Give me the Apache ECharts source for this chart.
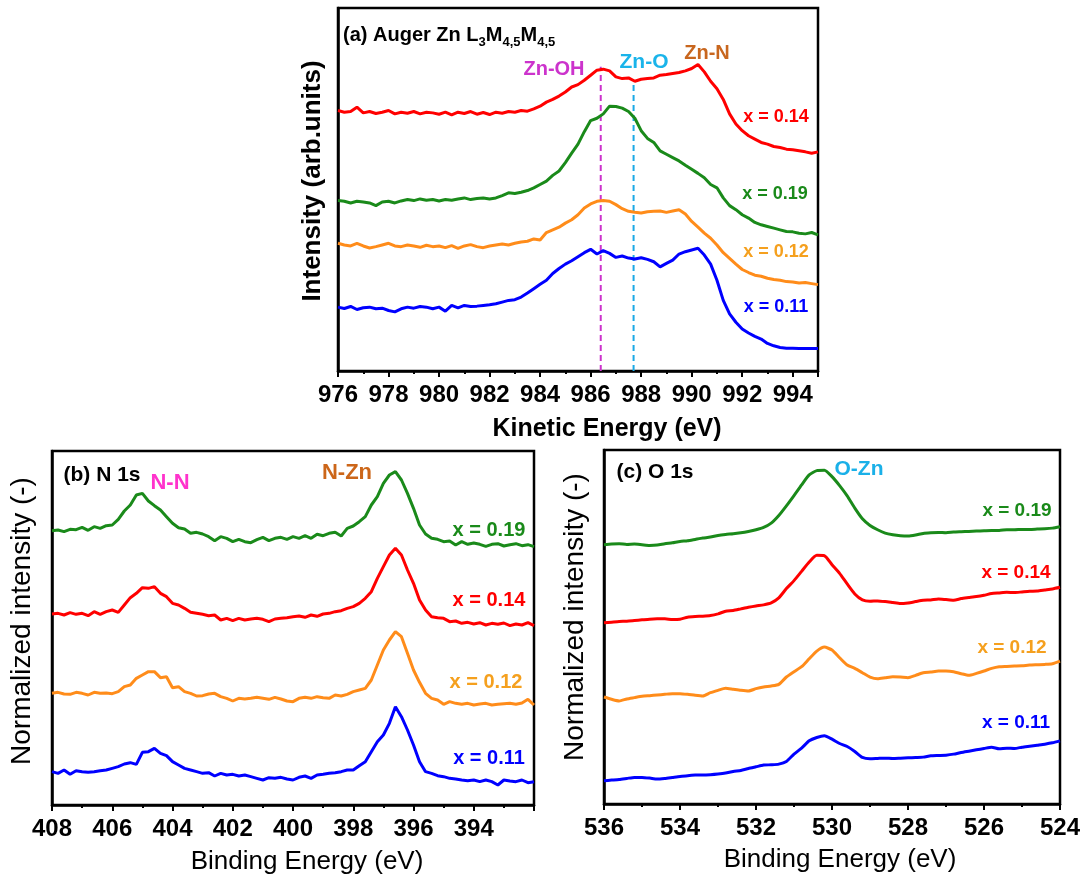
<!DOCTYPE html>
<html>
<head>
<meta charset="utf-8">
<title>XPS / Auger spectra of Zn-O-N films</title>
<script src="https://cdn.jsdelivr.net/npm/echarts@6/dist/echarts.min.js"></script>
<style>
  html, body { margin: 0; padding: 0; background: #fff; }
  #chart { width: 1084px; height: 884px; }
</style>
</head>
<body>
<div id="chart"></div>
<script>
// ---------- (a) Auger Zn LMM, kinetic energy 976.00 -> 995.00 eV, 0.25 eV sampling ----------
const augerStart = 976.0, augerStep = 0.25;
const augerX014 = [775,770,772,785,768,772,766,770,775,765,770,767,772,765,770,768,764,770,762,770,766,772,764,769,763,770,767,772,770,775,773,780,788,800,808,818,830,845,852,865,880,895,898,893,875,870,872,862,868,870,872,880,882,885,888,893,900,912,890,862,840,808,765,735,715,700,690,680,675,668,665,660,658,655,652,648,652];
const augerX019 = [507,505,500,505,503,500,492,503,505,500,506,510,507,512,508,510,506,510,508,512,515,510,513,515,512,515,522,530,528,532,537,545,555,565,582,595,620,648,675,712,745,752,765,788,787,782,772,752,715,692,680,655,645,635,625,612,600,588,575,555,545,515,492,480,465,455,442,435,430,425,420,415,414,410,408,412,405];
const augerX012 = [380,375,372,380,372,366,370,375,380,372,370,375,372,368,374,370,372,367,373,365,372,376,370,367,372,375,378,375,380,384,386,393,390,412,420,428,440,450,465,485,497,505,507,505,495,483,475,472,470,474,475,476,472,476,480,467,445,428,410,395,375,352,335,318,302,293,285,282,276,272,270,266,265,262,263,260,257];
const augerX011 = [190,186,192,183,188,190,185,187,180,176,185,190,187,192,190,185,190,178,195,188,195,192,193,195,197,200,205,210,212,220,232,245,258,270,290,305,318,328,340,352,362,348,358,350,338,342,336,333,337,332,325,310,320,330,348,355,360,365,345,318,270,210,170,145,125,113,103,95,82,75,70,68,68,67,67,67,67];
// reference positions of Zn-OH and Zn-O (eV) and the height of their guide lines
const augerMarkerEnergy = [986.4, 987.7];
const augerMarkerTop = [905, 865];
const augerTicks = [976, 995];

// ---------- (b) N 1s, binding energy 408.0 -> 392.0 eV, 0.2 eV sampling ----------
const n1sStart = 408.0, n1sStep = -0.2;
const n1sX019 = [823,825,820,827,826,833,824,835,830,838,840,857,882,900,930,935,912,898,885,865,845,832,828,815,818,813,805,793,805,800,790,797,790,787,796,803,793,800,803,797,805,800,808,800,812,808,815,818,807,830,837,850,865,900,925,965,990,1000,975,935,890,840,813,800,797,790,792,780,790,782,786,782,776,782,784,777,781,784,778,781,775];
const n1sX014 = [573,575,570,577,572,575,568,580,572,580,585,578,600,622,635,652,650,655,635,625,605,600,590,578,575,572,568,570,555,560,553,560,555,558,560,557,550,558,560,562,565,567,563,570,566,573,575,580,583,590,595,605,620,640,680,715,750,770,750,705,665,615,585,565,562,560,550,552,545,548,543,547,540,545,542,546,538,543,540,547,538];
const n1sX012 = [335,338,333,332,338,335,330,338,335,336,334,340,355,360,380,390,400,400,382,385,352,355,340,335,327,328,333,335,325,320,312,320,318,320,323,320,317,323,318,312,310,320,323,320,325,322,320,330,327,332,340,345,350,375,420,465,495,520,505,455,405,368,335,320,315,302,310,305,302,305,300,303,305,300,302,304,305,302,306,317,300];
const n1sX011 = [100,95,105,92,103,100,98,100,103,105,110,115,123,127,122,158,160,170,155,148,130,120,110,105,100,95,97,87,95,90,92,87,90,85,80,75,82,80,83,78,75,83,87,80,90,92,95,97,100,105,105,118,130,160,190,210,245,295,265,225,180,130,100,95,88,85,80,78,75,73,75,70,75,70,60,75,72,70,75,67,70];
const n1sTicks = [392, 408];

// ---------- (c) O 1s, binding energy 536.0 -> 524.0 eV, 0.2 eV sampling ----------
const o1sStart = 536.0, o1sStep = -0.2;
const o1sX019 = [780,782,783,781,782,780,778,779,783,786,790,792,796,800,803,808,811,813,816,820,825,832,845,868,897,928,960,990,1003,1004,985,958,927,890,858,838,825,815,810,807,806,809,814,816,817,816,818,819,820,821,822,823,823,825,825,826,826,827,828,830,834];
const o1sX014 = [545,547,549,550,552,554,556,557,557,555,556,562,564,565,567,572,580,582,587,592,596,599,605,620,648,672,700,728,748,747,720,694,662,632,614,610,611,609,606,603,605,609,613,614,617,615,613,618,621,624,628,633,635,637,636,638,640,641,644,647,652];
const o1sX012 = [322,315,310,316,320,324,326,328,330,332,332,330,327,325,335,342,348,345,342,340,347,352,355,360,382,398,413,437,460,472,463,440,418,408,395,382,377,380,383,382,380,387,395,397,400,400,398,392,387,393,400,408,413,414,415,416,418,419,420,422,430];
const o1sX011 = [70,72,74,77,80,80,78,75,77,80,83,85,87,87,88,90,93,98,101,107,112,117,118,120,128,150,168,190,200,205,195,182,173,158,140,136,137,138,137,138,139,140,141,145,146,147,150,155,159,163,167,171,166,168,167,171,174,177,180,184,190];
const o1sTicks = [524, 536];

// ---------- helpers ----------
const FONT = '"Liberation Sans", Arial, sans-serif';
const C = {
  red: '#ff0000', green: '#1a8a1a', orange: '#ff8c1a', blue: '#0000ff',
  orangeText: '#f5a01e'
};

// pairs each intensity with its energy on the uniform acquisition grid
function spectrum(start, step, values) {
  return values.map((v, i) => [+(start + i * step).toFixed(3), v]);
}

function lineSeries(idx, data, color, extra) {
  return Object.assign({
    type: 'line', xAxisIndex: idx, yAxisIndex: idx, data: data,
    showSymbol: false, symbol: 'none', silent: true, animation: false,
    lineStyle: { width: 3, color: color }, itemStyle: { color: color }, z: 3
  }, extra || {});
}

function energyAxis(idx, range, inverse, extraLabel) {
  return {
    type: 'value', gridIndex: idx, min: range[0], max: range[1], interval: 2, inverse: inverse,
    axisLine: { onZero: false, lineStyle: { color: '#000', width: 2.5 } },
    axisTick: { show: true, inside: false, length: 6, lineStyle: { color: '#000', width: 2 } },
    minorTick: { show: true, splitNumber: 2, length: 3, lineStyle: { color: '#000', width: 2 } },
    axisLabel: Object.assign({ color: '#000', fontFamily: FONT, fontWeight: 'bold', fontSize: 24, margin: 12 }, extraLabel || {}),
    splitLine: { show: false }, minorSplitLine: { show: false }
  };
}

function intensityAxis(idx, max) {
  return {
    type: 'value', gridIndex: idx, min: 0, max: max,
    axisLine: { show: true, onZero: false, lineStyle: { color: '#000', width: 2.5 } },
    axisTick: { show: false }, axisLabel: { show: false }, splitLine: { show: false }
  };
}

function txt(text, x, y, color, size, weight, rotate) {
  return {
    type: 'text', x: x, y: y, rotation: rotate ? Math.PI / 2 : 0, z: 10, silent: true,
    style: {
      text: text, fill: color, align: 'center', verticalAlign: 'middle',
      font: (weight || 'bold') + ' ' + size + 'px ' + FONT
    }
  };
}

const chart = echarts.init(document.getElementById('chart'), null, { renderer: 'canvas' });

const frame = { show: true, borderColor: '#000', borderWidth: 2.5, backgroundColor: 'transparent', containLabel: false };

const option = {
  backgroundColor: '#fff',
  animation: false,
  grid: [
    Object.assign({ left: 338, top: 8, width: 480, height: 363 }, frame),
    Object.assign({ left: 52, top: 451, width: 482, height: 354 }, frame),
    Object.assign({ left: 604, top: 450, width: 456, height: 354 }, frame)
  ],
  xAxis: [
    energyAxis(0, augerTicks, false, { showMaxLabel: false }),
    energyAxis(1, n1sTicks, true, { showMinLabel: false }),
    energyAxis(2, o1sTicks, true)
  ],
  yAxis: [
    intensityAxis(0, 1080),
    intensityAxis(1, 1062),
    intensityAxis(2, 1065)
  ],
  series: [
    // (a) guide lines for Zn-OH and Zn-O
    lineSeries(0, [[augerMarkerEnergy[0], 0], [augerMarkerEnergy[0], augerMarkerTop[0]]], '#cc33cc',
      { lineStyle: { width: 2, color: '#cc33cc', type: [6, 4] }, z: 2 }),
    lineSeries(0, [[augerMarkerEnergy[1], 0], [augerMarkerEnergy[1], augerMarkerTop[1]]], '#1aa9e6',
      { lineStyle: { width: 2, color: '#1aa9e6', type: [6, 4] }, z: 2 }),
    lineSeries(0, spectrum(augerStart, augerStep, augerX014), C.red),
    lineSeries(0, spectrum(augerStart, augerStep, augerX019), C.green),
    lineSeries(0, spectrum(augerStart, augerStep, augerX012), C.orange),
    lineSeries(0, spectrum(augerStart, augerStep, augerX011), C.blue),
    // (b) N 1s
    lineSeries(1, spectrum(n1sStart, n1sStep, n1sX019), C.green),
    lineSeries(1, spectrum(n1sStart, n1sStep, n1sX014), C.red),
    lineSeries(1, spectrum(n1sStart, n1sStep, n1sX012), C.orange),
    lineSeries(1, spectrum(n1sStart, n1sStep, n1sX011), C.blue),
    // (c) O 1s
    lineSeries(2, spectrum(o1sStart, o1sStep, o1sX019), C.green, { smooth: 0.2 }),
    lineSeries(2, spectrum(o1sStart, o1sStep, o1sX014), C.red, { smooth: 0.2 }),
    lineSeries(2, spectrum(o1sStart, o1sStep, o1sX012), C.orange, { smooth: 0.2 }),
    lineSeries(2, spectrum(o1sStart, o1sStep, o1sX011), C.blue, { smooth: 0.2 })
  ],
  graphic: [
    // panel (a)
    {
      type: 'text', x: 343, y: 33, z: 10, silent: true,
      style: {
        text: '{b|(a) Auger Zn L}{s|3}{b|M}{s|4,5}{b|M}{s|4,5}',
        verticalAlign: 'middle', align: 'left',
        rich: {
          b: { fontFamily: FONT, fontWeight: 'bold', fontSize: 20, fill: '#000', lineHeight: 24, verticalAlign: 'bottom' },
          s: { fontFamily: FONT, fontWeight: 'bold', fontSize: 13, fill: '#000', lineHeight: 16, verticalAlign: 'bottom', padding: [0, 0, -4, 0] }
        }
      }
    },
    txt('Zn-OH', 554, 69, '#cc33cc', 20),
    txt('Zn-O', 644, 62, '#1ab4ea', 21),
    txt('Zn-N', 707, 53, '#c8661e', 20),
    txt('x = 0.14', 776, 117, C.red, 18),
    txt('x = 0.19', 775, 194, C.green, 18),
    txt('x = 0.12', 776, 252, C.orangeText, 18),
    txt('x = 0.11', 776, 307, C.blue, 18),
    txt('Intensity (arb.units)', 313, 181, '#000', 26, 'bold', true),
    txt('Kinetic Energy (eV)', 607, 429, '#000', 25),
    // panel (b)
    txt('(b) N 1s', 102, 475, '#000', 21),
    txt('N-N', 170, 483, '#ff33cc', 22),
    txt('N-Zn', 347, 473, '#cc6619', 22),
    txt('x = 0.19', 489, 530, C.green, 20),
    txt('x = 0.14', 489, 600, C.red, 20),
    txt('x = 0.12', 486, 682, C.orangeText, 20),
    txt('x = 0.11', 489, 758, C.blue, 20),
    txt('Normalized intensity (-)', 22, 621, '#000', 28, 'normal', true),
    txt('Binding Energy (eV)', 307, 862, '#000', 26, 'normal'),
    // panel (c)
    txt('(c) O 1s', 655, 472, '#000', 21),
    txt('O-Zn', 859, 469, '#1ab0e8', 21),
    txt('x = 0.19', 1017, 511, C.green, 19),
    txt('x = 0.14', 1016, 573, C.red, 19),
    txt('x = 0.12', 1012, 648, C.orangeText, 19),
    txt('x = 0.11', 1016, 723, C.blue, 19),
    txt('Normalized intensity (-)', 575, 617, '#000', 28, 'normal', true),
    txt('Binding Energy (eV)', 840, 860, '#000', 26, 'normal')
  ]
};

chart.setOption(option);
</script>
</body>
</html>
